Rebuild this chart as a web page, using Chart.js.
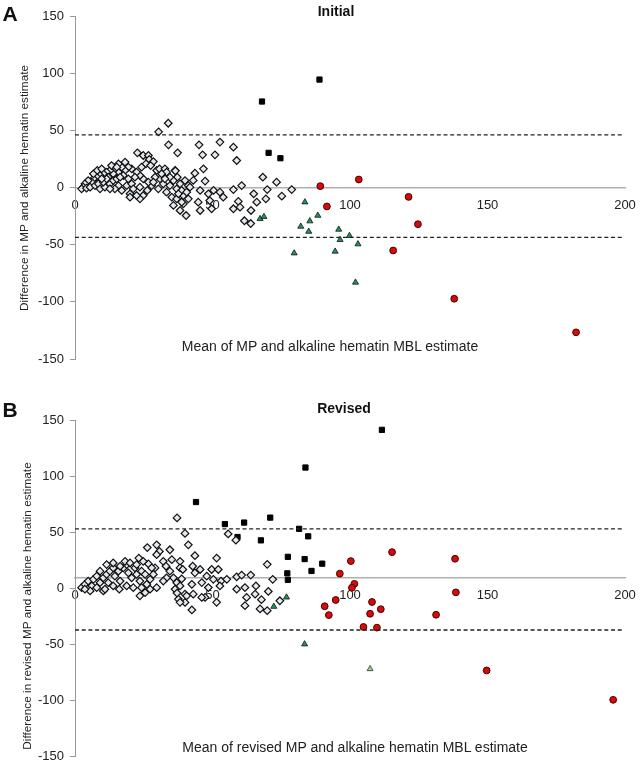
<!DOCTYPE html>
<html>
<head>
<meta charset="utf-8">
<script src="https://cdn.jsdelivr.net/npm/chart.js@4.4.0/dist/chart.umd.min.js"></script>
<style>
  body { margin: 0; background: #fff; font-family: "Liberation Sans", Arial, sans-serif; }
  #wrap { position: relative; width: 644px; height: 770px; overflow: hidden; }
  .panel { position: absolute; left: 0; width: 644px; height: 385px; }
  .lbl { position: absolute; white-space: nowrap; color: #111; transform: translate(-50%, -50%); }
  .letter { font-weight: bold; font-size: 21px; }
  .ttl { font-weight: bold; font-size: 14px; }
  .xt { font-size: 14px; color: #222; }
  .yt { font-size: 11.8px; color: #222; transform: translate(-50%, -50%) rotate(-90deg); }
</style>
</head>
<body>
<div id="wrap">
  <div class="panel" style="top:0"><canvas id="chartA" width="644" height="385"></canvas></div>
  <div class="panel" style="top:385px"><canvas id="chartB" width="644" height="385"></canvas></div>

  <div class="lbl letter" style="left:10px;top:14px">A</div>
  <div class="lbl ttl" style="left:336px;top:11px">Initial</div>
  <div class="lbl yt" style="left:24px;top:188px">Difference in MP and alkaline hematin estimate</div>
  <div class="lbl xt" style="left:330px;top:346px">Mean of MP and alkaline hematin MBL estimate</div>

  <div class="lbl letter" style="left:10px;top:410px">B</div>
  <div class="lbl ttl" style="left:344px;top:408px">Revised</div>
  <div class="lbl yt" style="left:27px;top:606px">Difference in revised MP and alkaline hematin estimate</div>
  <div class="lbl xt" style="left:355px;top:747px">Mean of revised MP and alkaline hematin MBL estimate</div>
</div>

<script>
// tick values
const xTicks = [0, 50, 100, 150, 200];
const yTicks = [-150, -100, -50, 0, 50, 100, 150];

// panel A: initial
const initialDiamonds = [
  [22.7,30.3],[24.8,28],[26.7,28],[27,24.5],[28.5,22.7],[37.3,30.3],[25.8,20.7],[24.2,17.8],[27.5,19.2],
  [29.7,14.9],[30.7,16.3],[32.7,16.3],[33.3,13.4],[36.4,14.9],[37.2,9],[38.2,3.2],[40,6.1],[41.2,1.7],
  [35.8,6.1],[34.5,1.7],[30.9,7.6],[32.1,3.2],[30.3,-1.2],[33.3,-4.1],[35.2,-8.5],[37,-9.9],[35.8,-15.7],
  [39.4,-7],[39.4,-14.3],[38.2,-20.1],[24.8,-7],[23.6,-9.9],[22.4,-7],[20,-5.5],[26.3,-2.6],[27.9,1.7],
  [26.7,4.7],[24.8,7.6],[23.6,10.5],[22.4,13.4],[21.8,9],[20.6,16.3],[19.4,17.8],[18.2,14.9],[17,17.8],
  [17.6,10.5],[15.8,13.4],[14.5,16.3],[13.9,12],[12.7,14.9],[11.5,13.4],[12.1,9],[10.3,12],[9.1,10.5],
  [7.9,9],[6.7,7.6],[6.1,4.7],[4.8,6.1],[3.6,3.2],[3,0.3],[2.4,-1.2],[4.2,-0.6],[5.5,0.3],[7.3,1.7],
  [8.5,3.2],[9.1,-1.2],[10.9,0.3],[10.3,4.7],[12.7,3.2],[13.9,6.1],[15.2,7.6],[16.4,9],[15.8,1.7],
  [14.5,-1.2],[17,-2.6],[18.8,1.7],[19.4,7.6],[20.6,3.2],[21.2,-1.2],[23.6,0.3],[20,-8.5],[11.5,7.6],
  [12.7,-1.2],[9.7,7.6],[6.7,12],[8.1,14.9],[9.7,16.3],[13.3,19.2],[15.8,20.7],[18.2,22.2],[15.2,17.8],
  [29.1,9],[28.5,4.7],[31.5,12],[34.5,9],[37,-1.2],[38.8,-2.6],[40.6,-4.1],[41.2,-9.9],[37.6,-5.5],
  [32.7,7.6],[33.9,56.2],[30.4,48.7],[34,37.3],[45.1,37.3],[52.7,39.7],[57.6,35.3],[46.4,28.6],[50.9,28.6],
  [58.8,23.6],[46.7,16.3],[43.6,12.5],[43,6.2],[47.3,5.6],[50.4,-2.6],[52.7,-4.1],[57.6,-1.8],[60.6,1.7],
  [68.3,9],[73.3,4.7],[78.8,-1.8],[75.2,-7.6],[69.9,-1.8],[65,-5.5],[69.4,-9.9],[59.4,-12.2],[64,-20.1],
  [60,-17.2],[57.6,-18.6],[66.1,-12.8],[53.9,-8.5],[49,-11.4],[44.8,-12.8],[38.8,-12.8],[45.5,-20.1],
  [49.7,-18.6],[40.4,-24.5],[41.8,0.3],[45.5,-2.6],[48.5,-5.5],[61.6,-29.1],[63.9,-31.5],[36.5,14.6]
];
const initialSquares = [[88.9,94.4],[68.0,75.2],[70.4,30.3],[74.7,25.6]];
const initialTriangles = [
  [83.6,-12.8],[67.3,-27.4],[68.7,-25.6],[88.3,-24.5],[85.4,-29.4],[82.1,-34.1],[85.0,-38.5],
  [95.9,-36.7],[96.4,-45.7],[99.8,-42.2],[102.9,-49.5],[79.7,-57.4],[94.6,-55.9],[102.0,-83.0]
];
const initialCircles = [
  [89.2,1.2],[103.2,7.0],[91.6,-16.6],[121.3,-8.2],[124.7,-32.1],[115.7,-55.1],[137.9,-97.3],[182.2,-126.7]
];
const initialLimits = [46.0, -43.7];
const initialMean = 0;

// panel B: revised
const revisedDiamonds = [
  [26.3,36.2],[29.7,38.6],[30.7,32.7],[34.5,34.2],[29.7,29.8],[23.2,26.8],[32.1,23.9],[35.2,25.4],[38.2,23.9],
  [40,48.8],[41.2,38.6],[26.7,21.6],[29.1,18],[33.1,19.5],[34.5,15.1],[35.8,9.2],[38.2,18],[37,4.8],
  [36.4,-1],[37.6,-9.8],[40,-5.4],[40,-12.8],[2.4,0.4],[3.6,3.4],[4.8,6.3],[6.1,1.9],[6.7,7.8],[7.9,10.7],
  [9.1,4.8],[10.3,9.2],[11.5,12.2],[12.7,15.1],[13.9,18],[14.5,10.7],[15.8,15.1],[16.4,6.3],[17.6,18],
  [18.8,21],[19.4,13.6],[20.6,9.2],[21.8,18],[22.4,12.2],[24.2,15.1],[23.6,6.3],[25.5,12.2],[26.1,3.4],
  [27.3,7.8],[27.9,18],[28.5,12.2],[7.9,0.4],[10.3,-2.5],[12.1,4.8],[13.9,1.9],[16.1,-1],[18.8,1.9],
  [21.2,0.4],[23.6,-6.9],[9.1,15.1],[11.5,21],[13.9,22.4],[16.4,19.5],[18.2,23.9],[20,22.4],[22.4,21],
  [24.8,23.9],[10.9,-1],[5.5,-2.5],[3.6,-1],[24.2,0.4],[25.5,-4],[27.3,-1],[29.7,0.4],[33.3,9.2],[32.1,6.3],
  [37.1,62.6],[55.7,48.3],[58.5,42.8],[43.6,28.9],[51.5,26.8],[69.9,21.2],[39.2,16.6],[42.8,19.5],
  [45.5,16.6],[49.7,16.6],[52.1,16.6],[43.6,13.6],[47.9,10.7],[50.3,7.8],[53.1,6.3],[55.2,7.8],[58.8,10.1],
  [60.6,11.6],[63.9,11.6],[71.9,7.8],[38.8,8.2],[42.5,3.4],[38.2,1.9],[46.1,4.9],[48.5,0.5],[52.7,1.9],
  [58.8,-1],[61.8,0.5],[65.8,1.9],[70.3,-3],[43,-5.4],[40.6,-6.9],[47.3,-8.3],[51.5,-12.7],[62.4,-8.3],
  [65.5,-5.4],[67.8,-10.3],[61.8,-15.7],[67.3,-18.6],[69.9,-20.1],[74.5,-11.3],[46.1,-8.3],[42.5,-19.5],
  [38.2,-12.7],[37.1,-4.4]
];
const revisedSquares = [
  [111.6,141.2],[83.8,107.6],[44.0,76.8],[71.0,62.9],[54.5,57.1],[61.5,58.5],[59.1,45.6],[67.6,42.6],
  [81.5,52.9],[84.8,46.2],[77.4,27.9],[83.5,25.9],[89.9,21.8],[86.0,15.3],[77.2,13.2],[77.4,7.4]
];
const revisedTriangles = [[76.9,-8.2],[72.3,-16.5],[83.5,-50.0]];
const revisedPaleTriangles = [[107.3,-72.1]];
const revisedCircles = [
  [115.3,32.1],[138.2,26.2],[100.3,24.1],[96.3,12.9],[101.6,3.8],[100.7,0.3],[138.5,-3.8],[108.0,-12.4],
  [94.8,-10.6],[90.8,-16.2],[92.3,-24.1],[107.3,-22.9],[111.2,-18.8],[131.3,-23.8],[104.9,-34.7],
  [109.8,-35.3],[149.7,-73.5],[195.7,-99.7]
];
const revisedLimits = [52.9, -37.4];
const revisedMean = 9.4;

const pts = arr => arr.map(p => ({ x: p[0], y: p[1] }));

function limitLine(y) {
  return {
    type: 'line',
    data: [{ x: 0, y: y }, { x: 199.3, y: y }],
    borderColor: '#222',
    borderWidth: 1.3,
    borderDash: [4, 2.7],
    pointRadius: 0,
    fill: false
  };
}

function groupSets(diamonds, squares, triangles, circles, pale) {
  const sets = [
    { data: pts(diamonds), pointStyle: 'rectRot', pointRadius: 3.8, backgroundColor: '#e3e9ef', borderColor: '#111', borderWidth: 1.2 },
    { data: pts(squares), pointStyle: 'rect', pointRadius: 3.7, backgroundColor: '#000', borderColor: '#000', borderWidth: 1 },
    { data: pts(triangles), pointStyle: 'triangle', pointRadius: 3.5, backgroundColor: '#22965a', borderColor: '#111', borderWidth: 0.8 }
  ];
  if (pale) {
    sets.push({ data: pts(pale), pointStyle: 'triangle', pointRadius: 3.5, backgroundColor: '#a6d08a', borderColor: '#333', borderWidth: 0.8 });
  }
  sets.push({ data: pts(circles), pointStyle: 'circle', pointRadius: 3.4, backgroundColor: '#d40c0c', borderColor: '#4a0000', borderWidth: 1 });
  return sets;
}

function makeChart(id, datasets, axisAt, padTop, padBottom) {
  return new Chart(document.getElementById(id), {
    type: 'scatter',
    data: { datasets: datasets },
    options: {
      responsive: false,
      animation: false,
      layout: { padding: { left: 0, right: 19, top: padTop, bottom: padBottom } },
      plugins: { legend: { display: false }, tooltip: { enabled: false } },
      scales: {
        x: {
          type: 'linear',
          min: 0, max: 200,
          position: { y: axisAt },
          afterBuildTicks: s => { s.ticks = xTicks.map(v => ({ value: v })); },
          ticks: { padding: 2, color: '#222', font: { family: 'Liberation Sans', size: 13 } },
          grid: { display: false },
          border: { color: '#b0b0b0', width: 1.6 }
        },
        y: {
          min: -150, max: 150,
          afterBuildTicks: s => { s.ticks = yTicks.map(v => ({ value: v })); },
          afterFit: s => { s.width = 75; },
          ticks: { padding: 6, color: '#222', font: { family: 'Liberation Sans', size: 13 } },
          grid: { drawOnChartArea: false, tickLength: 5, color: '#999' },
          border: { color: '#999', width: 1 }
        }
      }
    }
  });
}

makeChart('chartA',
  [limitLine(initialLimits[0]), limitLine(initialLimits[1])]
    .concat(groupSets(initialDiamonds, initialSquares, initialTriangles, initialCircles)),
  initialMean, 16, 26);

makeChart('chartB',
  [limitLine(revisedLimits[0]), limitLine(revisedLimits[1])]
    .concat(groupSets(revisedDiamonds, revisedSquares, revisedTriangles, revisedCircles, revisedPaleTriangles)),
  revisedMean, 35, 9);
</script>
</body>
</html>
